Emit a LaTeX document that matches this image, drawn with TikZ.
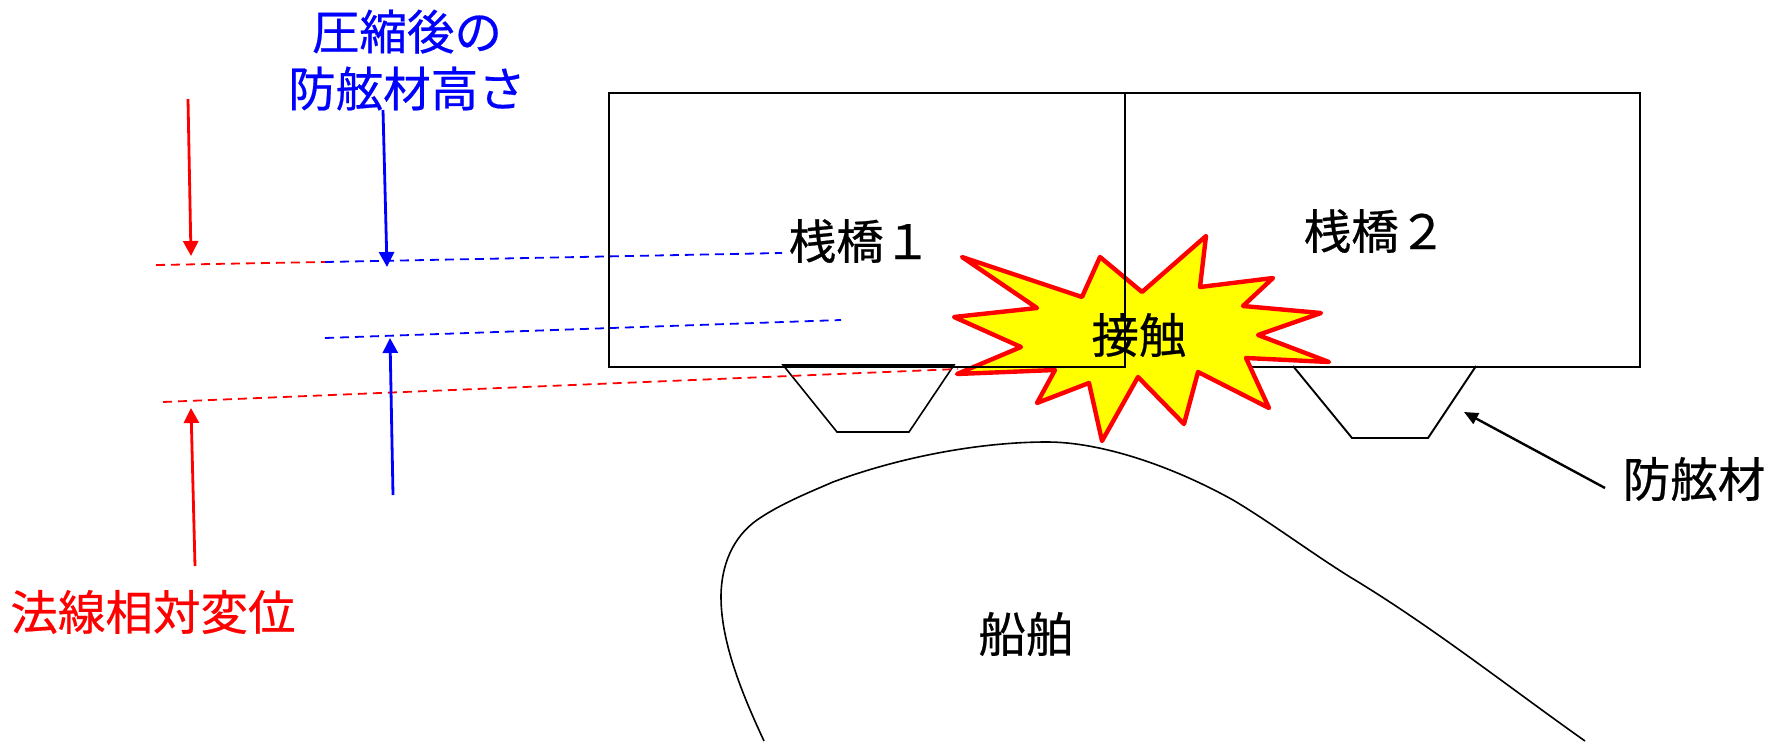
\documentclass[tikz,border=0pt]{standalone}
\usepackage{fontspec}
\usetikzlibrary{arrows.meta}
\newfontfamily\jpfont[FakeBold=0.5]{Noto Sans CJK JP}
\definecolor{burstfill}{RGB}{255,255,0}
\definecolor{pred}{RGB}{255,0,0}
\definecolor{pblue}{RGB}{0,0,255}
\tikzset{
  outline/.style={draw=black,line width=1.9pt},
  thinline/.style={draw=black,line width=1.6pt},
  lbl/.style={font=\jpfont\fontsize{47.5}{57}\selectfont,inner sep=0pt,align=center},
  dimarrow/.style={line width=2.8pt,-{Triangle[length=15pt,width=15pt]}},
  guide/.style={line width=1.8pt,dash pattern=on 9pt off 6pt},
  burst/.style={draw=pred,fill=burstfill,line width=4.4pt,line join=round}
}
\begin{document}
\begin{tikzpicture}[x=1pt,y=-1pt]
\useasboundingbox (0,0) rectangle (1768,741);
% coordinates for free ends
\coordinate (r1a) at (188,99);   \coordinate (r1b) at (191,256);
\coordinate (b1a) at (383,110);  \coordinate (b1b) at (387,267);
\coordinate (b2a) at (393,495);  \coordinate (b2b) at (390,338);
\coordinate (r2a) at (195,566);  \coordinate (r2b) at (191,408);
\coordinate (g1a) at (156,265);  \coordinate (g1b) at (325,262);
\coordinate (g2a) at (325,262);  \coordinate (g2b) at (782,253);
\coordinate (g3a) at (325,338);  \coordinate (g3b) at (841,320);
\coordinate (g4a) at (163,402);  \coordinate (g4b) at (958,369);
\coordinate (fa) at (1605,488);  \coordinate (fb) at (1464,412);
% ship
\draw[thinline] (764,741) .. controls (745,700) and (721,645) .. (721,597)
  .. controls (721,565) and (733,537) .. (757,520)
  .. controls (780,504) and (810,492) .. (833,482)
  .. controls (900,457) and (980,442) .. (1047,442)
  .. controls (1100,442) and (1170,465) .. (1233,500)
  .. controls (1270,522) and (1310,552) .. (1350,577)
  .. controls (1430,625) and (1510,688) .. (1585,741);
% fenders
\draw[thinline] (783,365) -- (837,432) -- (909,432) -- (954,365) -- cycle;
\draw[outline] (1293,366) -- (1352,438) -- (1428,438) -- (1476,366);
% bridge 2
\node[outline,minimum width=515pt,minimum height=274pt,anchor=north west,inner sep=0pt] (bridgeB) at (1124,92) {};
% guides
\draw[guide,pred] (g4a) -- (g4b);
\draw[guide,pred] (g1a) -- (g1b);
\draw[guide,pblue] (g2a) -- (g2b);
\draw[guide,pblue] (g3a) -- (g3b);
% burst
\draw[burst] (962,257) -- (1082,297) -- (1100,257) -- (1142,292) -- (1206,236)
  -- (1200,287) -- (1273,278) -- (1243,306) -- (1321,313) -- (1258,335)
  -- (1329,362) -- (1246,358) -- (1269,408) -- (1198,372) -- (1184,424)
  -- (1138,377) -- (1102,441) -- (1089,383) -- (1037,403) -- (1055,370)
  -- (957,374) -- (1021,347) -- (954,317) -- (1037,308) -- cycle;
% bridge 1
\node[outline,minimum width=516pt,minimum height=274pt,anchor=north west,inner sep=0pt] (bridgeA) at (608,92) {};
% arrows
\draw[dimarrow,pred] (r1a) -- (r1b);
\draw[dimarrow,pblue] (b1a) -- (b1b);
\draw[dimarrow,pblue] (b2a) -- (b2b);
\draw[dimarrow,pred] (r2a) -- (r2b);
\draw[line width=2.4pt,-{Triangle[length=14pt,width=12pt]}] (fa) -- (fb);
% labels
\node[lbl,text=pblue] (lblHeight) at (407,60) {圧縮後の\\防舷材高さ};
\node[lbl,text=pred] (lblDisp) at (153,612) {法線相対変位};
\node[lbl] (lblBridgeA) at (860,241) {桟橋１};
\node[lbl] (lblBridgeB) at (1375,231) {桟橋２};
\node[lbl] (lblContact) at (1139,335) {接触};
\node[lbl] (lblShip) at (1026,634) {船舶};
\node[lbl] (lblFender) at (1694,479) {防舷材};
\end{tikzpicture}
\end{document}
